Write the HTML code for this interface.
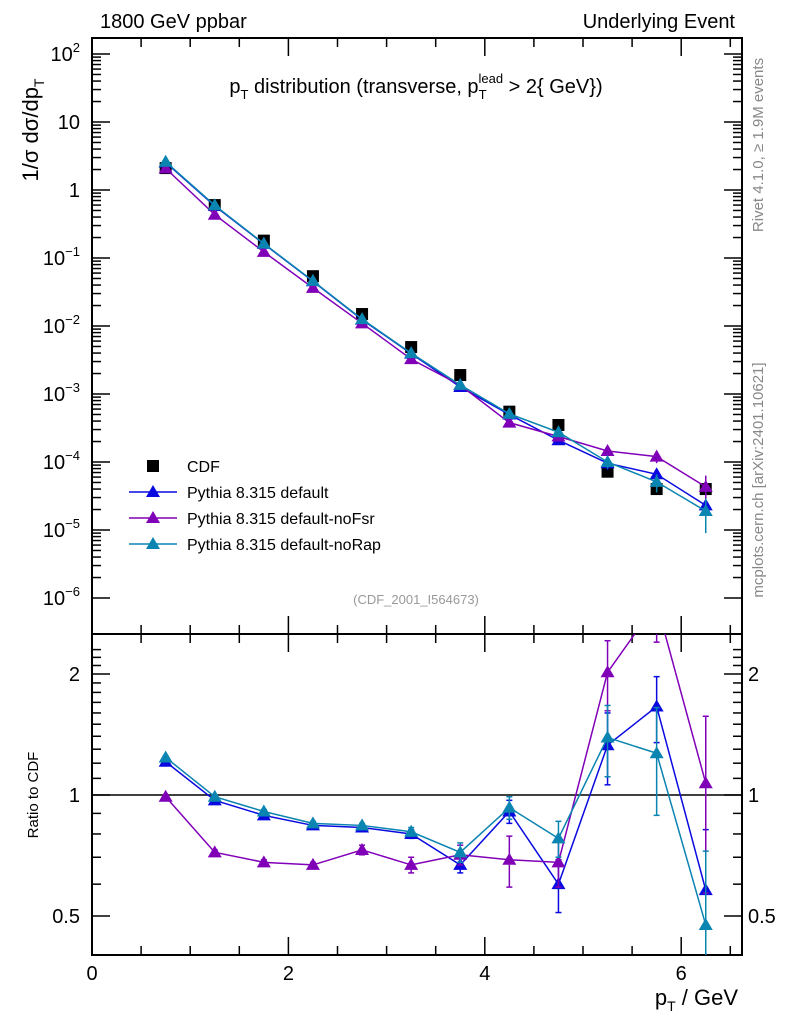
<!DOCTYPE html>
<html><head><meta charset="utf-8"><style>
body{margin:0;background:#fff}
svg{display:block;font-family:"Liberation Sans",sans-serif}
</style></head><body>
<svg id="c" width="786" height="1024" viewBox="0 0 786 1024">
<rect width="786" height="1024" fill="#fff"/>
<text x="100" y="28" font-size="20">1800 GeV ppbar</text>
<text x="735" y="28" font-size="20" text-anchor="end">Underlying Event</text>
<text x="416" y="93" font-size="20" text-anchor="middle">p<tspan font-size="13" dy="6">T</tspan><tspan dy="-6"> distribution (transverse, p</tspan><tspan font-size="13" dy="6">T</tspan><tspan font-size="13" dx="-8" dy="-16">lead</tspan><tspan dy="10"> &gt; 2{ GeV})</tspan></text>
<text transform="translate(38,130) rotate(-90)" font-size="22" text-anchor="middle">1/σ  dσ/dp<tspan font-size="14" dy="6">T</tspan></text>
<text transform="translate(38,795) rotate(-90)" font-size="15" text-anchor="middle">Ratio to CDF</text>
<text transform="translate(763,145) rotate(-90)" font-size="15" fill="#888" text-anchor="middle">Rivet 4.1.0, ≥ 1.9M events</text>
<text transform="translate(763,480) rotate(-90)" font-size="15" fill="#888" text-anchor="middle">mcplots.cern.ch [arXiv:2401.10621]</text>
<text x="416" y="604" font-size="13" fill="#999" text-anchor="middle">(CDF_2001_I564673)</text>
<text x="738" y="1005" font-size="22" text-anchor="end">p<tspan font-size="14" dy="6">T</tspan><tspan dy="-6"> / GeV</tspan></text>
<g id="g"></g>
</svg>
<script>
const xs=[0.75,1.25,1.75,2.25,2.75,3.25,3.75,4.25,4.75,5.25,5.75,6.25];
const cdfVals=[2.1,0.6,0.18,0.054,0.015,0.0049,0.0019,0.00055,0.00035,7.2e-5,4.0e-5,4.0e-5];
const defVals=[2.54,0.583,0.161,0.0455,0.0124,0.00392,0.00127,0.000499,0.000209,9.6e-5,6.6e-5,2.3e-5];
const fsrVals=[2.08,0.433,0.123,0.0364,0.01095,0.00326,0.00135,0.000379,0.000237,1.45e-4,1.2e-4,4.3e-5];
const rapVals=[2.6,0.596,0.163,0.046,0.0126,0.00399,0.00136,0.00051,0.000274,1.0e-4,5.1e-5,1.9e-5];
const defRatio=[1.21,0.97,0.89,0.84,0.83,0.80,0.67,0.91,0.60,1.33,1.66,0.58];
const fsrRatio=[0.99,0.72,0.68,0.67,0.73,0.67,0.71,0.69,0.68,2.02,3.0,1.07];
const rapRatio=[1.24,0.99,0.91,0.85,0.84,0.81,0.72,0.93,0.78,1.39,1.27,0.475];
const defErr=[0.01,0.01,0.01,0.01,0.01,0.02,0.03,0.06,0.09,0.27,0.31,0.24];
const fsrErr=[0.01,0.01,0.01,0.01,0.02,0.03,0.04,0.10,0.09,0.40,0.60,0.50];
const rapErr=[0.01,0.01,0.01,0.01,0.01,0.02,0.04,0.06,0.08,0.28,0.38,0.25];
const xTicks=[0,2,4,6];
const mainTicks=[-6,-5,-4,-3,-2,-1,0,1,2];
const ratioTicks=[0.5,1,2];

const L=92,R=742,T=38,MB=634,RB=955;
const X=v=>L+v*98.2;
const Y=v=>190-68*Math.log10(v);
const RY=v=>795-121*Math.log2(v);
const g=document.getElementById('g');
const NS='http://www.w3.org/2000/svg';
function mk(t,a,p){const e=document.createElementNS(NS,t);for(const k in a)e.setAttribute(k,a[k]);(p||g).appendChild(e);return e;}
const defs=mk('defs',{});
const c1=mk('clipPath',{id:'cm'},defs);mk('rect',{x:L,y:T,width:R-L,height:MB-T},c1);
const c2=mk('clipPath',{id:'cr'},defs);mk('rect',{x:L,y:MB,width:R-L,height:RB-MB},c2);
let f=mk('rect',{x:L,y:T,width:R-L,height:MB-T,fill:'none',stroke:'#000','stroke-width':2});

f=mk('rect',{x:L,y:MB,width:R-L,height:RB-MB,fill:'none',stroke:'#000','stroke-width':2});

for(let v=0;v<=6.6;v+=0.5){const maj=Math.abs(v-Math.round(v/2)*2)<1e-6;const len=maj?18:9;
 for(const [y0,d] of [[T,1],[MB,-1],[MB,1],[RB,-1]]) mk('line',{x1:X(v),x2:X(v),y1:y0,y2:y0+d*len,stroke:'#000','stroke-width':1.5});}
xTicks.forEach(v=>{const t=mk('text',{x:X(v),y:980,'font-size':20,'text-anchor':'middle'});t.textContent=v;
 });
mainTicks.forEach(p=>{for(let m=1;m<10;m++){const y=Y(m*Math.pow(10,p));if(y<T||y>MB)continue;const len=m==1?18:9;
 mk('line',{x1:L,x2:L+len,y1:y,y2:y,stroke:'#000','stroke-width':1.5});mk('line',{x1:R,x2:R-len,y1:y,y2:y,stroke:'#000','stroke-width':1.5});}
 const t=mk('text',{x:80,y:Y(Math.pow(10,p))+7,'font-size':20,'text-anchor':'end'});
 
 if(p==0)t.textContent='1';else if(p==1)t.textContent='10';else{t.textContent='10';const s=mk('tspan',{'font-size':13,dy:-9},t);s.textContent=p==2?'2':'−'+(-p);}});
for(let v=0.4;v<=2.35;v+=0.1){const y=RY(v);if(y<MB||y>RB)continue;const maj=ratioTicks.some(r=>Math.abs(r-v)<1e-6);const len=maj?18:9;
 mk('line',{x1:L,x2:L+len,y1:y,y2:y,stroke:'#000','stroke-width':1.5});mk('line',{x1:R,x2:R-len,y1:y,y2:y,stroke:'#000','stroke-width':1.5});}
ratioTicks.forEach(v=>{const t=mk('text',{x:80,y:RY(v)+7,'font-size':20,'text-anchor':'end'});t.textContent=v;
 
 const t2=mk('text',{x:748,y:RY(v)+7,'font-size':20});t2.textContent=v;
 });
mk('line',{x1:L,x2:R,y1:RY(1),y2:RY(1),stroke:'#000','stroke-width':1.5});
function tri(x,y,col,p){return mk('polygon',{points:`${x},${y-7} ${x-7},${y+5} ${x+7},${y+5}`,fill:col},p);}
const series=[['default',defVals,defRatio,defErr,'#0a0ae0'],['noFsr',fsrVals,fsrRatio,fsrErr,'#8000b8'],['noRap',rapVals,rapRatio,rapErr,'#0a84b0']];
const gm=mk('g',{'clip-path':'url(#cm)'});
cdfVals.forEach((v,i)=>{const r=mk('rect',{x:X(xs[i])-6,y:Y(v)-6,width:12,height:12,fill:'#000'},gm);
 });
const gr=mk('g',{'clip-path':'url(#cr)'});
series.forEach(([nm,vals,rat,err,col])=>{
 const pl=mk('polyline',{points:xs.map((x,i)=>X(x)+','+Y(vals[i])).join(' '),fill:'none',stroke:col,'stroke-width':1.5},gm);
 
 vals.forEach((v,i)=>{const e=err[i]/rat[i];const y1=Y(v*(1+e)),y2=Y(v*Math.max(1-e,0.05));
  if(y2-y1>6){mk('line',{x1:X(xs[i]),x2:X(xs[i]),y1:y1,y2:y2,stroke:col,'stroke-width':1.5},gm);}
  const t=tri(X(xs[i]),Y(v),col,gm);});
 const rl=mk('polyline',{points:xs.map((x,i)=>X(x)+','+RY(rat[i])).join(' '),fill:'none',stroke:col,'stroke-width':1.5},gr);
 
 rat.forEach((v,i)=>{const x=X(xs[i]);const y1=RY(v+err[i]),y2=RY(Math.max(v-err[i],0.2));
  mk('line',{x1:x,x2:x,y1:y1,y2:y2,stroke:col,'stroke-width':1.5},gr);
  mk('line',{x1:x-3,x2:x+3,y1:y1,y2:y1,stroke:col,'stroke-width':1.5},gr);
  mk('line',{x1:x-3,x2:x+3,y1:y2,y2:y2,stroke:col,'stroke-width':1.5},gr);
  const t=tri(x,RY(v),col,gr);});
});
const lg=mk('g',{});
mk('rect',{x:147,y:460,width:12,height:12,fill:'#000'},lg);
const names=['CDF','Pythia 8.315 default','Pythia 8.315 default-noFsr','Pythia 8.315 default-noRap'];
names.forEach((n,i)=>{const y=466+i*26;
 if(i>0){mk('line',{x1:129,x2:177,y1:y,y2:y,stroke:series[i-1][4],'stroke-width':1.5},lg);tri(153,y,series[i-1][4],lg);}
 const t=mk('text',{x:187,y:y+6,'font-size':16},lg);t.textContent=n;
 });
</script>
</body></html>
